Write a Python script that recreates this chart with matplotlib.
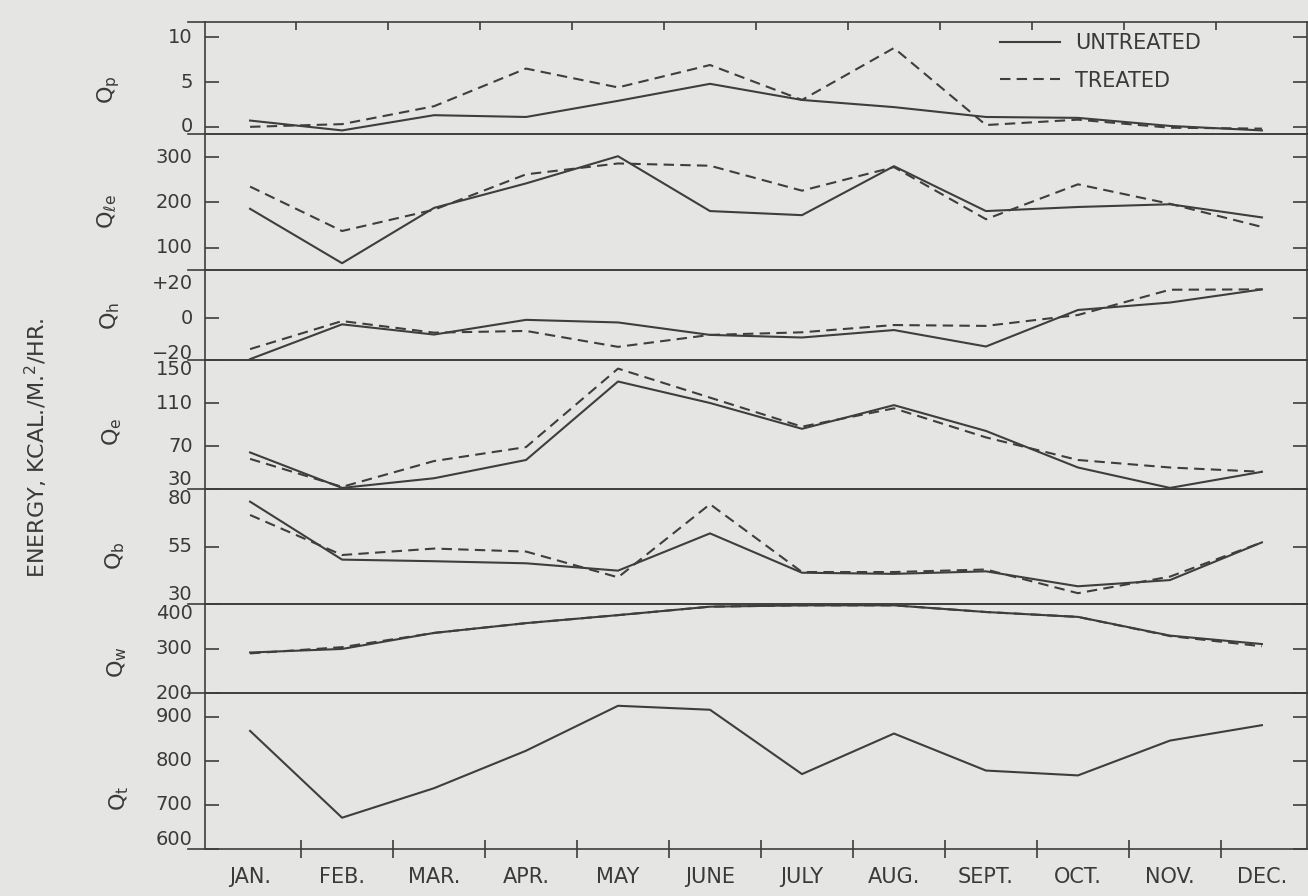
import matplotlib
matplotlib.use('Agg')
import matplotlib.pyplot as plt
from matplotlib.lines import Line2D

# ---------------- data ----------------
months = ['JAN.', 'FEB.', 'MAR.', 'APR.', 'MAY', 'JUNE', 'JULY',
          'AUG.', 'SEPT.', 'OCT.', 'NOV.', 'DEC.']

qp_untreated = [0.7, -0.4, 1.3, 1.1, 2.9, 4.8, 3.0, 2.2, 1.1, 1.0, 0.1, -0.4]
qp_treated = [0.0, 0.3, 2.3, 6.5, 4.4, 6.9, 3.0, 8.8, 0.2, 0.8, -0.1, -0.2]

qle_untreated = [186, 66, 188, 242, 302, 181, 172, 280, 181, 190, 196, 167]
qle_treated = [235, 137, 184, 262, 286, 281, 226, 278, 163, 240, 197, 146]

qh_untreated = [-23.5, -3.4, -9.3, -0.8, -2.3, -9.5, -11.0, -6.7, -16.2, 4.9, 9.2, 16.8]
qh_treated = [-17.7, -1.5, -8.2, -7.2, -16.4, -9.5, -8.0, -3.8, -4.3, 2.0, 16.6, 16.8]

qe_untreated = [64, 31, 40, 57, 130, 110, 86, 108, 84, 50, 31, 46]
qe_treated = [58, 32, 56, 69, 142, 115, 88, 105, 78, 57, 50, 46]

qb_untreated = [74.5, 49.3, 48.6, 47.7, 44.5, 60.7, 43.6, 43.1, 44.2, 37.7, 40.4, 56.8]
qb_treated = [68.7, 51.3, 54.1, 52.8, 41.6, 73.4, 43.9, 43.9, 45.0, 34.7, 41.9, 56.8]

qw_untreated = [291, 299, 335, 357, 375, 394, 397, 397, 382, 371, 329, 310]
qw_treated = [289, 303, 335, 357, 375, 394, 397, 397, 382, 371, 328, 305]

qt_untreated = [868, 671, 738, 823, 925, 916, 770, 862, 778, 767, 846, 881]

panel_names = [r'$Q_p$', r'$Q_{\ell e}$', r'$Q_h$', r'$Q_e$', r'$Q_b$', r'$Q_w$', r'$Q_t$']
panel_ticks = [[0, 5, 10], [100, 200, 300], [-20, 0, 20], [30, 70, 110, 150],
               [30, 55, 80], [200, 300, 400], [600, 700, 800, 900]]
panel_ticklabels = [['0', '5', '10'], ['100', '200', '300'], ['\u221220', '0', '+20'],
                    ['30', '70', '110', '150'], ['30', '55', '80'],
                    ['200', '300', '400'], ['600', '700', '800', '900']]
legend_labels = ['UNTREATED', 'TREATED']
ylabel = 'ENERGY, KCAL./M.$^2$/HR.'

# ---------------- style / layout ----------------
BG = '#e5e5e3'
LC = '#3e3e3e'
TC = '#3a3a3a'
W, H = 1308, 896
plt.rcParams['font.family'] = ['DejaVu Sans']
plt.rcParams['mathtext.default'] = 'regular'

bounds = [22, 134, 270, 360, 489, 604, 693, 849]
xl, xr = 205, 1307
ylims = [(-0.8, 11.7), (51, 351), (-24, 28), (30, 150), (30, 80), (200, 400), (600, 954)]
label_va = [['center'] * 3, ['center'] * 3, ['center'] * 3,
            ['bottom', 'center', 'center', 'top'], ['bottom', 'center', 'top'],
            ['center', 'center', 'top'], ['bottom', 'center', 'center', 'center']]
hidden_ticks = {2: [0, 2]}
qlabel_pos = [(109, 90), (107, 212), (110, 316), (112, 432), (115, 556), (117, 662), (119, 798)]

series = [(qp_untreated, qp_treated), (qle_untreated, qle_treated),
          (qh_untreated, qh_treated), (qe_untreated, qe_treated),
          (qb_untreated, qb_treated), (qw_untreated, qw_treated),
          (qt_untreated, None)]

fig = plt.figure(figsize=(W / 100, H / 100), dpi=100, facecolor=BG)
x = list(range(len(months)))

for i in range(7):
    top, bot = bounds[i], bounds[i + 1]
    ax = fig.add_axes([xl / W, 1 - bot / H, (xr - xl) / W, (bot - top) / H])
    ax.set_facecolor('none')
    u, t = series[i]
    ax.plot(x, u, color=LC, lw=1.5)
    if t is not None:
        ax.plot(x, t, color=LC, lw=1.5, ls=(0, (5, 3)))
    ax.set_xlim(-0.49, 11.49)
    ax.set_ylim(*ylims[i])
    for s in ax.spines.values():
        s.set_color(LC)
        s.set_linewidth(1.2)
    ax.set_yticks(panel_ticks[i], panel_ticklabels[i])
    ax.tick_params(axis='y', direction='in', length=10, width=1.2, color=LC,
                   right=True, labelsize=14, labelcolor=TC, pad=9)
    for lab, va in zip(ax.get_yticklabels(), label_va[i]):
        lab.set_verticalalignment(va)
    for k in hidden_ticks.get(i, []):
        tk = ax.yaxis.get_major_ticks()[k]
        tk.tick1line.set_visible(False)
        tk.tick2line.set_visible(False)

    if i == 0:
        ax.xaxis.set_ticks_position('top')
        ax.set_xticks([k + 0.5 for k in range(11)])
        ax.tick_params(axis='x', direction='in', length=6, width=1.2, color=LC,
                       labeltop=False, labelbottom=False)
        ax.legend([Line2D([], [], color=LC, lw=1.5),
                   Line2D([], [], color=LC, lw=1.5, ls=(0, (5, 3)))],
                  legend_labels, loc='upper left',
                  bbox_to_anchor=(1000 / W, 1 - 33 / H),
                  bbox_transform=fig.transFigure, frameon=False, fontsize=15,
                  handlelength=2.9, handletextpad=0.7, labelspacing=0.85,
                  borderpad=0, borderaxespad=0, labelcolor=TC)
    elif i == 6:
        ax.set_xticks([k + 0.55 for k in range(11)])
        ax.set_xticklabels([])
        ax.tick_params(axis='x', which='major', direction='inout', length=13,
                       width=1.2, color=LC)
        ax.set_xticks(x, months, minor=True)
        ax.tick_params(axis='x', which='minor', length=0, pad=13,
                       labelsize=15, labelcolor=TC)
    else:
        ax.set_xticks([])

    qx, qy = qlabel_pos[i]
    fig.text(qx / W, 1 - qy / H, panel_names[i], rotation=90, ha='center',
             va='center', fontsize=16, color=TC)

# short extensions of the panel separators left of the frame
for b in bounds:
    fig.add_artist(Line2D([188 / W, xl / W], [1 - b / H, 1 - b / H],
                          color=LC, lw=1.2))

fig.text(36 / W, 1 - 448 / H, ylabel, rotation=90, ha='center', va='center',
         fontsize=16, color=TC)

fig.savefig('out.png', dpi=100, facecolor=BG)
